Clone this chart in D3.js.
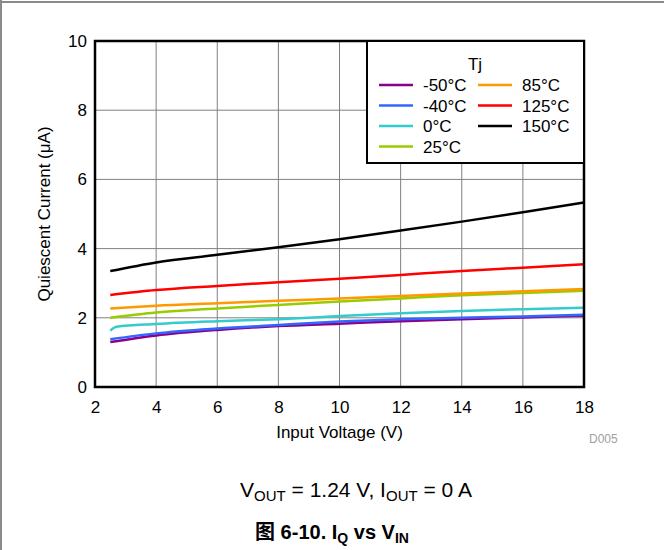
<!DOCTYPE html>
<html>
<head>
<meta charset="utf-8">
<script src="https://cdn.jsdelivr.net/npm/d3@7"></script>
<style>
  html, body { margin: 0; padding: 0; background: #fff; }
  svg { display: block; font-family: Arial, "Liberation Sans", sans-serif; }
</style>
</head>
<body>
<svg id="chart" width="664" height="550"></svg>
<script>
// ---- data ----
const vin = [2.5, 4, 6, 8, 10, 12, 14, 16, 18];
const vinCold0 = [2.5, 2.7, 4, 6, 8, 10, 12, 14, 16, 18];
const iqM50 = [1.30, 1.49, 1.65, 1.76, 1.83, 1.90, 1.96, 2.01, 2.06];
const iqM40 = [1.38, 1.55, 1.69, 1.79, 1.89, 1.96, 2.00, 2.04, 2.09];
const iq0   = [1.63, 1.74, 1.82, 1.90, 1.96, 2.05, 2.13, 2.20, 2.25, 2.29];
const iq25  = [2.00, 2.15, 2.27, 2.37, 2.47, 2.56, 2.65, 2.72, 2.78];
const iq85  = [2.27, 2.35, 2.42, 2.49, 2.56, 2.63, 2.70, 2.77, 2.83];
const iq125 = [2.66, 2.80, 2.92, 3.03, 3.13, 3.24, 3.35, 3.45, 3.55];
const iq150 = [3.35, 3.60, 3.82, 4.04, 4.27, 4.52, 4.78, 5.05, 5.33];
const seriesNames = ["-50°C", "-40°C", "0°C", "25°C", "85°C", "125°C", "150°C"];
const seriesColors = ["#8B008B", "#3366FF", "#33CCCC", "#99CC00", "#FF9900", "#FF0000", "#000000"];
const xTicks = [2, 4, 6, 8, 10, 12, 14, 16, 18];
const yTicks = [0, 2, 4, 6, 8, 10];

const series = [
  { x: vin, y: iqM50 },
  { x: vin, y: iqM40 },
  { x: vinCold0, y: iq0 },
  { x: vin, y: iq25 },
  { x: vin, y: iq85 },
  { x: vin, y: iq125 },
  { x: vin, y: iq150 }
].map((s, i) => ({ name: seriesNames[i], color: seriesColors[i],
  pts: s.x.map((v, j) => [v, s.y[j]]) }));

// ---- layout ----
const svg = d3.select("#chart");
const L = 95, R = 584, T = 41, B = 387;
const x = d3.scaleLinear().domain([2, 18]).range([L, R]);
const y = d3.scaleLinear().domain([0, 10]).range([B, T]);

// outer page frame (top and left gray rules)
svg.append("line").attr("x1", 0).attr("x2", 664).attr("y1", 2).attr("y2", 2)
  .attr("stroke", "#8a8a8a").attr("stroke-width", 2);
svg.append("line").attr("x1", 1).attr("x2", 1).attr("y1", 0).attr("y2", 550)
  .attr("stroke", "#8a8a8a").attr("stroke-width", 2);

// grid
const grid = svg.append("g");
grid.selectAll("line.vx").data(xTicks.slice(1, -1)).join("line")
  .attr("x1", d => x(d)).attr("x2", d => x(d)).attr("y1", T).attr("y2", B)
  .attr("stroke", "#808080").attr("stroke-width", 1);
grid.selectAll("line.hy").data(yTicks.slice(1, -1)).join("line")
  .attr("x1", L).attr("x2", R).attr("y1", d => y(d)).attr("y2", d => y(d))
  .attr("stroke", "#808080").attr("stroke-width", 1);

// axes (labels only, via d3 axes)
const xAxis = svg.append("g").attr("transform", `translate(0,${B})`)
  .call(d3.axisBottom(x).tickValues(xTicks).tickSize(0).tickPadding(14));
const yAxis = svg.append("g").attr("transform", `translate(${L},0)`)
  .call(d3.axisLeft(y).tickValues(yTicks).tickSize(0).tickPadding(8));
[xAxis, yAxis].forEach(a => {
  a.select(".domain").remove();
  a.selectAll("text").attr("font-size", 17).attr("fill", "#000")
    .attr("font-family", "Arial, 'Liberation Sans', sans-serif");
});

// lines
const line = d3.line().x(d => x(d[0])).y(d => y(d[1])).curve(d3.curveMonotoneX);
svg.append("g").selectAll("path").data(series).join("path")
  .attr("d", d => line(d.pts))
  .attr("fill", "none").attr("stroke", d => d.color).attr("stroke-width", 2.5);

// plot frame
svg.append("rect").attr("x", L).attr("y", T).attr("width", R - L).attr("height", B - T)
  .attr("fill", "none").attr("stroke", "#000").attr("stroke-width", 2.5);

// axis titles
svg.append("text").attr("x", (L + R) / 2).attr("y", 438).attr("text-anchor", "middle")
  .attr("font-size", 17).text("Input Voltage (V)");
svg.append("text").attr("transform", `translate(50,${(T + B) / 2}) rotate(-90)`)
  .attr("text-anchor", "middle").attr("font-size", 17).text("Quiescent Current (\u03BCA)");
svg.append("text").attr("x", 589).attr("y", 443).attr("font-size", 12)
  .attr("fill", "#a0a0a0").text("D005");

// legend
const lg = svg.append("g");
lg.append("rect").attr("x", 367).attr("y", T).attr("width", R - 367).attr("height", 122)
  .attr("fill", "#fff").attr("stroke", "#000").attr("stroke-width", 2);
lg.append("text").attr("x", 475).attr("y", 70).attr("text-anchor", "middle")
  .attr("font-size", 17).text("Tj");
const legPos = [[0,0],[0,1],[0,2],[0,3],[1,0],[1,1],[1,2]];
series.forEach((s, i) => {
  const [c, r] = legPos[i];
  const lx = c === 0 ? 379 : 478;
  const ly = 85 + r * 20.5;
  lg.append("line").attr("x1", lx).attr("x2", lx + 34).attr("y1", ly).attr("y2", ly)
    .attr("stroke", s.color).attr("stroke-width", 2.5);
  lg.append("text").attr("x", lx + 44).attr("y", ly + 6).attr("font-size", 17).text(s.name);
});

// captions
const c1 = svg.append("text").attr("x", 356).attr("y", 497).attr("text-anchor", "middle")
  .attr("font-size", 21);
c1.append("tspan").text("V");
c1.append("tspan").attr("font-size", 15).attr("dy", 4).text("OUT");
c1.append("tspan").attr("dy", -4).text(" = 1.24 V, I");
c1.append("tspan").attr("font-size", 15).attr("dy", 4).text("OUT");
c1.append("tspan").attr("dy", -4).text(" = 0 A");

const c2 = svg.append("text").attr("x", 332).attr("y", 539).attr("text-anchor", "middle")
  .attr("font-size", 20).attr("font-weight", "bold");
c2.append("tspan").attr("font-family", "'Noto Sans CJK SC', sans-serif").text("图");
c2.append("tspan").text(" 6-10. I");
c2.append("tspan").attr("font-size", 14).attr("dy", 4).text("Q");
c2.append("tspan").attr("dy", -4).text(" vs V");
c2.append("tspan").attr("font-size", 14).attr("dy", 4).text("IN");
</script>
</body>
</html>
